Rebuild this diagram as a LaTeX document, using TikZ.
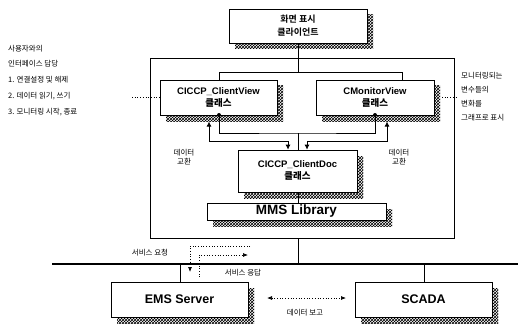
\documentclass[tikz,border=0pt]{standalone}
\usepackage{fontspec}
\setmainfont{Liberation Sans}
\newfontfamily\kr{Noto Sans CJK KR}
\newfontfamily\krb{Noto Sans CJK KR Bold}
\usetikzlibrary{arrows.meta,patterns}
\begin{document}
\begin{tikzpicture}[x=1pt,y=-1pt,
  box/.style={draw=black,line width=0.6pt,fill=white,inner sep=0pt,align=center},
  cls/.style={box,font=\bfseries\fontsize{9.5}{12}\selectfont},
  big/.style={box,font=\bfseries\fontsize{12.5}{14}\selectfont},
  shadowfill/.style={pattern=crosshatch,pattern color=black,
    postaction={pattern=crosshatch dots,pattern color=black}},
  conn/.style={line width=0.9pt},
  arr/.style={line width=0.9pt,-{Latex[length=5pt,width=5pt]}},
  dot/.style={dotted,line width=0.7pt},
  darr/.style={dotted,line width=0.7pt,-{Latex[length=5pt,width=4pt]}},
  lbl/.style={font=\kr\fontsize{7.5}{9}\selectfont,inner sep=0pt},
  lbll/.style={lbl,anchor=west}]
\useasboundingbox (0,0) rectangle (518,326);

% container
\node[draw=black,line width=0.9pt,minimum width=304pt,minimum height=180pt,inner sep=0pt] (cont) at (302,148) {};

% shadows
\path[shadowfill] (235,15) rectangle (373,49);
\path[shadowfill] (166,86) rectangle (283,121);
\path[shadowfill] (322,86) rectangle (440,121);
\path[shadowfill] (244,156) rectangle (363,198);
\path[shadowfill] (213,209) rectangle (392,226);
\path[shadowfill] (117,288) rectangle (254,323);
\path[shadowfill] (361,288) rectangle (498,323);

% boxes
\node[box,minimum width=138pt,minimum height=34pt,font=\krb\fontsize{9}{13}\selectfont] (top) at (298,26) {화면 표시\\클라이언트};
\node[cls,minimum width=117pt,minimum height=35pt] (cv) at (218.5,97.5) {CICCP\_ClientView\\{\krb 클래스}};
\node[cls,minimum width=118pt,minimum height=35pt] (mv) at (375,97.5) {CMonitorView\\{\krb 클래스}};
\node[cls,minimum width=119pt,minimum height=42pt] (doc) at (297.5,171) {CICCP\_ClientDoc\\{\krb 클래스}};
\node[box,minimum width=179pt,minimum height=17pt,font=\bfseries\fontsize{13.5}{14}\selectfont] (mms) at (296.5,211.5) {MMS Library};
\node[big,minimum width=137pt,minimum height=35pt] (ems) at (179.5,299.5) {EMS Server};
\node[big,minimum width=137pt,minimum height=35pt] (scada) at (423.5,299.5) {SCADA};

% coordinates
\coordinate (bar) at (298,72);
\coordinate (barL) at (219,72);
\coordinate (barR) at (402,72);
\coordinate (cvdot) at (219,115);
\coordinate (mvdot) at (375,115);
\coordinate (midU) at (298,133);
\coordinate (cvU) at (219,133);
\coordinate (mvU) at (375,133);
\coordinate (la) at (209,141);
\coordinate (lb) at (288,141);
\coordinate (ra) at (307,141);
\coordinate (rb) at (387,141);
\coordinate (busL) at (52,264);
\coordinate (busR) at (518,264);
\coordinate (busM) at (298,264);
\coordinate (busE) at (180,264);
\coordinate (busS) at (424,264);

% top connections
\draw[conn] (top.south -| bar) -- (bar);
\draw[conn] (barL |- cv.north) -- (barL) -- (barR) -- (barR |- mv.north);

% view -> doc
\draw[conn] (cvdot) -- (cvU) -- (midU) -- (mvU) -- (mvdot);
\draw[conn] (midU) -- (midU |- doc.north);
\fill (cvdot) circle (2pt);
\fill (mvdot) circle (2pt);
\draw[arr] (la) -- (lb) -- (lb |- doc.north);
\draw[arr] (lb) -- (la) -- (209,121.5);
\draw[arr] (rb) -- (ra) -- (ra |- doc.north);
\draw[arr] (ra) -- (rb) -- (387,121.5);

% doc -> mms -> bus
\draw[conn] (doc.south -| midU) -- (mms.north -| midU);
\draw[conn] (cont.south -| busM) -- (busM);
\draw[line width=1.3pt] (busL) -- (busR);
\draw[conn] (busE) -- (busE |- ems.north);
\draw[conn] (busS) -- (busS |- scada.north);

% side notes
\node[lbll] (n1) at (8,49) {사용자와의};
\node[lbll] (n2) at (8,64) {인터페이스 담당};
\node[lbll] (n3) at (8,80) {1. 연결설정 및 해제};
\node[lbll] (n4) at (8,96) {2. 데이터 읽기, 쓰기};
\node[lbll] (n5) at (8,112) {3. 모니터링 시작, 종료};
\coordinate (ldot) at (132,97);
\draw[dot] (ldot) -- (cv.west |- ldot);

\node[lbll] (m1) at (461,76) {모니터링되는};
\node[lbll] (m2) at (461,90) {변수들의};
\node[lbll] (m3) at (461,104) {변화를};
\node[lbll] (m4) at (461,118) {그래프로 표시};
\coordinate (rdot) at (458,97);
\draw[dot] (442,97) -- (rdot);

\node[lbl,align=center] (dl) at (184,157) {데이터\\교환};
\node[lbl,align=center] (dr) at (399,157) {데이터\\교환};

% service messages
\node[lbl] (req) at (150,253) {서비스 요청};
\node[lbl] (resp) at (243,273) {서비스 응답};
\coordinate (q1) at (250,246);
\coordinate (q2) at (190,246);
\coordinate (q3) at (190,272);
\draw[darr] (q1) -- (q2) -- (q3);
\coordinate (r1) at (199,277);
\coordinate (r2) at (199,255);
\coordinate (r3) at (248,255);
\draw[darr] (r1) -- (r2) -- (r3);

\coordinate (dx1) at (267,298);
\coordinate (dx2) at (346,298);
\draw[darr,{Latex[length=5pt,width=4pt]}-{Latex[length=5pt,width=4pt]}] (dx1) -- (dx2);
\node[lbl] (rep) at (305,313) {데이터 보고};
\end{tikzpicture}
\end{document}
